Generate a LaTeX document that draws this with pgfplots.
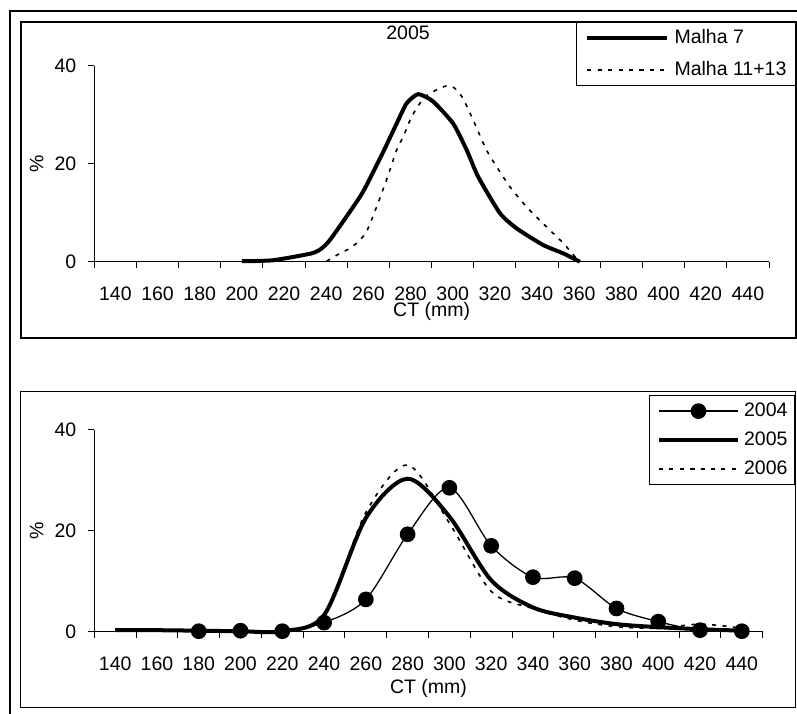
\documentclass[border=0pt]{standalone}
\usepackage{fontspec}
\setmainfont{Liberation Sans}
\usepackage{pgfplots}
\pgfplotsset{compat=1.18}

\newcommand\chartfont{\fontsize{9.75}{11.7}\selectfont}

\pgfplotsset{
  ctbase/.style={
    scale only axis,
    anchor=south west,
    axis lines=left,
    axis line style={-, line width=0.5pt},
    xmin=130, xmax=450, ymin=0, ymax=40,
    xtick={130,150,...,450},
    x tick label as interval,
    xticklabels={140,160,180,200,220,240,260,280,300,320,340,360,380,400,420,440},
    ytick={0,20,40},
    tick align=outside,
    major tick length=3pt,
    tick style={line width=0.5pt, black},
    /pgf/number format/assume math mode=true,
    tick label style={font=\chartfont, inner sep=0pt},
    label style={font=\chartfont, inner sep=0pt},
    title style={font=\chartfont, inner sep=0pt},
    xticklabel style={anchor=center, yshift=-12.8pt},
    yticklabel style={anchor=east, xshift=-5.8pt},
    xlabel={CT (mm)},
    ylabel={\%},
    clip=false,
    legend cell align=left,
    legend image code/.code={\draw[mark repeat=2,mark phase=2,#1] plot coordinates {(0pt,0pt) (19.8pt,0pt) (39.6pt,0pt)};},
  },
  dotline/.style={black, line width=0.8pt, dash pattern=on 2pt off 3.2pt},
}

\begin{document}
\chartfont
\begin{tikzpicture}
\useasboundingbox (0,0) rectangle (398.5pt,-356.5pt);
\begin{scope}[x=0.5pt,y=-0.5pt]
\draw[line width=1pt] (10,720) -- (10,11) -- (805,11);
\draw[line width=1pt] (20.7,21.7) rectangle (795.7,337.7);
\draw[line width=0.5pt] (20.7,391.7) rectangle (795,707);
\end{scope}

% top: 2005 by mesh
\begin{axis}[ctbase,
  at={(47.15pt,-130.85pt)}, width=337.35pt, height=98pt,
  title={2005}, title style={at={(0.465,1.1056)}, anchor=center, yshift=0pt},
  xlabel style={at={(0.5,-0.2551)}, anchor=center},
  ylabel style={at={(-0.0854,0.5)}, anchor=center},
  legend style={font=\chartfont, at={(1.0396,1.2230)}, anchor=north east, draw=black, line width=0.5pt,
    inner xsep=4.4pt, inner ysep=3.4pt, row sep=6.85pt, column sep=3pt,
    nodes={inner sep=0pt, text height=7pt, text depth=2pt}},
]
\addplot[black, line width=2pt, line join=round, smooth, tension=0.35] coordinates {
(200,0.1) (214.8,0.3) (233.1,1.7) (237.8,2.7) (241.7,4.4) (249.6,9.2)
(257.5,14.3) (267,22.4) (273.4,28.2) (278.1,32.3) (283.6,34.2) (290.7,32.7)
(300.2,28.2) (306.6,22.8) (312.1,17.3) (322.4,9.9) (330.3,6.8) (342.9,3.4)
(352.4,1.7) (360.3,0)
};
\addlegendentry{Malha 7}
\addplot[dotline, smooth, tension=0.35] coordinates {
(240.2,0.1) (246.5,1.7) (251.2,2.7) (255.2,4.1) (259.1,6.1) (263.9,11.2)
(268.6,16.7) (273.4,22.8) (276.5,25.5) (280.5,29.6) (286,33.3) (290.7,34.7)
(297,35.9) (301,35.4) (304.9,33.3) (309.7,28.9) (316,22.8) (320.8,19.4)
(327.1,15.3) (335,11.2) (344.5,7.1) (352.4,3.8) (358,1.0) (360.3,0.1)
};
\addlegendentry{Malha 11+13}
\end{axis}

% bottom: by year
\begin{axis}[ctbase,
  at={(47.15pt,-315.85pt)}, width=334.2pt, height=101pt,
  xlabel style={at={(0.5,-0.2802)}, anchor=center},
  ylabel style={at={(-0.0862,0.5)}, anchor=center},
  legend style={font=\chartfont, at={(1.0483,1.1718)}, anchor=north east, draw=black, line width=0.5pt,
    inner xsep=3.5pt, inner ysep=3.3pt, row sep=5.5pt, column sep=2pt,
    nodes={inner sep=0pt, text height=7pt, text depth=2pt}},
]
\addplot[black, line width=0.65pt, smooth, mark=*, mark size=3.6pt, mark options={solid, fill=black}] coordinates {
(180,0.1) (200,0.2) (220,0.1) (240,1.8) (260,6.4) (280,19.3) (300,28.5)
(320,17.0) (340,10.8) (360,10.6) (380,4.6) (400,2.0) (420,0.3) (440,0.1)
};
\addlegendentry{2004}
\addplot[black, line width=2pt, smooth] coordinates {
(140,0.3) (160,0.3) (180,0.2) (200,0.1) (220,0.1) (240,3.3) (260,22.5)
(280,30.3) (300,22.8) (320,10.2) (340,4.8) (360,2.8) (380,1.5) (400,0.9)
(420,0.5) (440,0.2)
};
\addlegendentry{2005}
\addplot[dotline, smooth] coordinates {
(140,0.3) (160,0.3) (180,0.2) (200,0.1) (220,0.1) (240,3.3) (260,23.6)
(280,33.0) (300,21.5) (320,8.0) (340,4.6) (360,2.3) (380,1.0) (400,0.7)
(420,1.5) (440,0.7)
};
\addlegendentry{2006}
\end{axis}
\end{tikzpicture}
\end{document}
